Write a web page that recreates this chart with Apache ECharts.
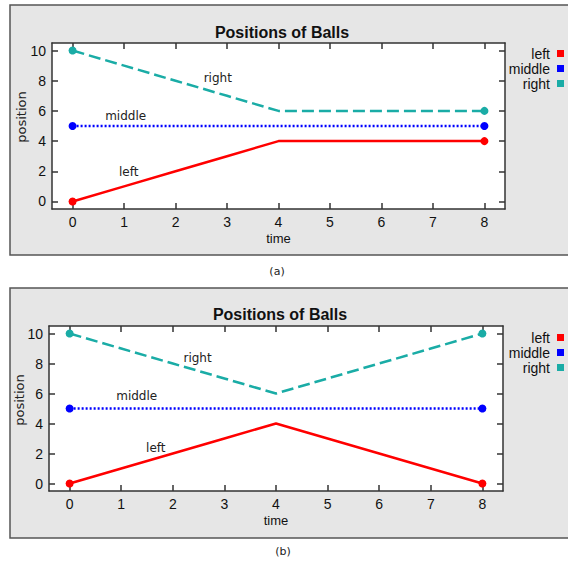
<!DOCTYPE html>
<html>
<head>
<meta charset="utf-8">
<script src="https://cdn.jsdelivr.net/npm/echarts@6/dist/echarts.min.js"></script>
<style>
  html, body { margin: 0; padding: 0; background: #fff; }
  #chart { width: 568px; height: 563px; }
</style>
</head>
<body>
<div id="chart"></div>
<script>
// time steps and ball positions
const times = [0, 1, 2, 3, 4, 5, 6, 7, 8]
const aLeft = [0, 1, 2, 3, 4, 4, 4, 4, 4]
const aMiddle = [5, 5, 5, 5, 5, 5, 5, 5, 5]
const aRight = [10, 9, 8, 7, 6, 6, 6, 6, 6]
const bLeft = [0, 1, 2, 3, 4, 3, 2, 1, 0]
const bMiddle = [5, 5, 5, 5, 5, 5, 5, 5, 5]
const bRight = [10, 9, 8, 7, 6, 7, 8, 9, 10]
const xTicks = [0, 1, 2, 3, 4, 5, 6, 7, 8]
const yTicks = [0, 2, 4, 6, 8, 10]
const names = ["left", "middle", "right"]

const chart = echarts.init(document.getElementById("chart"), null, { renderer: "svg" })

const colors = { left: "#ff0000", middle: "#0000ff", right: "#1aaca6" }
const lineTypes = { left: "solid", middle: [2, 2], right: [12, 5] }
const axisColor = "#333"
const tickFont = { color: "#111", fontSize: 14, fontFamily: "Liberation Sans" }

const pair = (ys) => times.map((t, i) => [t, ys[i]])

const endSymbol = (val, params) =>
  params.dataIndex === 0 || params.dataIndex === times.length - 1 ? 8 : 0

const makeX = (grid, pos) => ({
  type: "value",
  gridIndex: grid,
  position: pos,
  min: -0.4,
  max: 8.4,
  name: pos === "bottom" ? "time" : "",
  nameLocation: "middle",
  nameGap: 23,
  nameTextStyle: { color: "#111", fontSize: 13, fontFamily: "Liberation Sans" },
  axisLine: { show: true, onZero: false, lineStyle: { color: axisColor, width: 1.5 } },
  axisTick: { show: true, inside: true, length: 6, customValues: xTicks, lineStyle: { color: axisColor, width: 1.5 } },
  axisLabel: { show: pos === "bottom", margin: 6, customValues: xTicks, ...tickFont },
  splitLine: { show: false }
})

const makeY = (grid, pos) => ({
  type: "value",
  gridIndex: grid,
  position: pos,
  min: -0.5,
  max: 10.5,
  axisLine: { show: true, onZero: false, lineStyle: { color: axisColor, width: 1.5 } },
  axisTick: { show: true, inside: true, length: 6, customValues: yTicks, lineStyle: { color: axisColor, width: 1.5 } },
  axisLabel: { show: pos === "left", margin: 6, customValues: yTicks, ...tickFont },
  splitLine: { show: false }
})

const makeSeries = (name, ys, axis, note) => ({
  name: name,
  type: "line",
  xAxisIndex: axis,
  yAxisIndex: axis,
  data: pair(ys),
  symbol: "circle",
  symbolSize: endSymbol,
  itemStyle: { color: colors[name] },
  lineStyle: { color: colors[name], width: 2.5, type: lineTypes[name] },
  emphasis: { disabled: true },
  markPoint: {
    symbol: "circle",
    symbolSize: 0,
    data: [{ name: name, coord: note }],
    label: {
      show: true,
      position: "inside",
      formatter: "{b}",
      color: "#222",
      fontSize: 12,
      fontFamily: "DejaVu Sans"
    }
  }
})

const makeLegend = (top) => ({
  data: names,
  orient: "vertical",
  right: -1,
  top: top,
  align: "right",
  itemGap: 0,
  itemWidth: 7,
  itemHeight: 7,
  icon: "rect",
  selectedMode: false,
  textStyle: { color: "#111", fontSize: 14, lineHeight: 15, fontFamily: "Liberation Sans", padding: [0, 2, 0, 0] }
})

const panelBox = (y) => ({
  type: "rect",
  shape: { x: 10, y: y, width: 600, height: 250 },
  style: { fill: "#e6e6e6", stroke: "#555", lineWidth: 1.5 },
  z: -10
})

const caption = (x, y, text) => ({
  type: "text",
  x: x,
  y: y,
  style: { text: text, fill: "#222", fontSize: 11, fontFamily: "DejaVu Sans", textAlign: "center", textVerticalAlign: "middle" }
})

const yName = (x, y) => ({
  type: "text",
  x: x,
  y: y,
  rotation: Math.PI / 2,
  style: { text: "position", fill: "#222", fontSize: 13, fontFamily: "DejaVu Sans", textAlign: "center", textVerticalAlign: "middle" }
})

const titleStyle = { fontSize: 16, fontWeight: "bold", color: "#111", fontFamily: "Liberation Sans" }

const option = {
  animation: false,
  title: [
    { text: "Positions of Balls", left: 277, top: 19, textAlign: "center", textStyle: titleStyle },
    { text: "Positions of Balls", left: 275, top: 301, textAlign: "center", textStyle: titleStyle }
  ],
  legend: [makeLegend(41), makeLegend(325)],
  graphic: [
    panelBox(5),
    panelBox(288),
    caption(277, 271, "(a)"),
    caption(283, 551, "(b)"),
    yName(21, 117),
    yName(19, 400)
  ],
  grid: [
    { left: 52, top: 43, width: 453, height: 166, show: true, backgroundColor: "#fff", borderWidth: 0 },
    { left: 49, top: 326, width: 454, height: 165, show: true, backgroundColor: "#fff", borderWidth: 0 }
  ],
  xAxis: [makeX(0, "bottom"), makeX(0, "top"), makeX(1, "bottom"), makeX(1, "top")],
  yAxis: [makeY(0, "left"), makeY(0, "right"), makeY(1, "left"), makeY(1, "right")],
  series: [
    makeSeries("left", aLeft, 0, [1.09, 1.97]),
    makeSeries("middle", aMiddle, 0, [1.03, 5.69]),
    makeSeries("right", aRight, 0, [2.82, 8.2]),
    makeSeries("left", bLeft, 2, [1.67, 2.35]),
    makeSeries("middle", bMiddle, 2, [1.3, 5.81]),
    makeSeries("right", bRight, 2, [2.48, 8.4])
  ]
}

chart.setOption(option)
</script>
</body>
</html>
